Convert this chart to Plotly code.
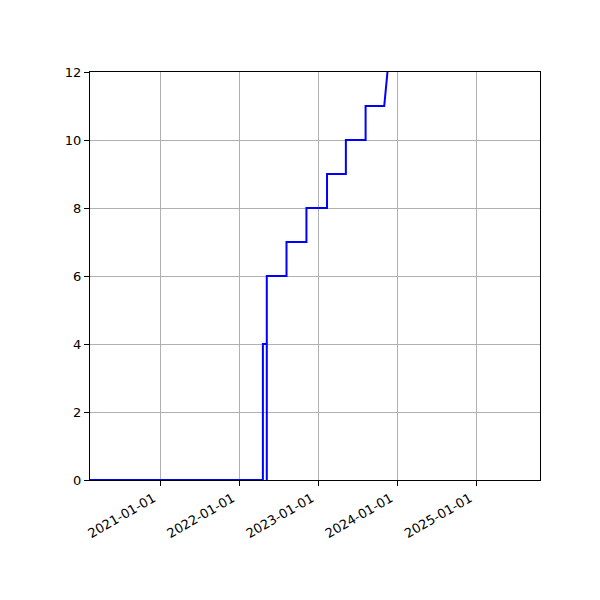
import plotly.graph_objects as go

# Vertex list of the plotted line (dates, values)
dates = [
    "2019-12-01", "2022-04-19", "2022-04-19", "2022-05-07", "2022-05-07", "2022-05-07",
    "2022-08-06", "2022-08-06", "2022-11-06", "2022-11-06", "2023-02-09", "2023-02-09",
    "2023-05-07", "2023-05-07", "2023-08-06", "2023-08-06", "2023-10-31", "2023-11-30",
]
values = [0, 0, 4, 4, 0, 6, 6, 7, 7, 8, 8, 9, 9, 10, 10, 11, 11, 13]

x_ticks = ["2021-01-01", "2022-01-01", "2023-01-01", "2024-01-01", "2025-01-01"]
y_ticks = [0, 2, 4, 6, 8, 10, 12]

fig = go.Figure()
fig.add_trace(go.Scatter(
    x=dates, y=values, mode="lines",
    line=dict(color="#0000ff", width=2),
    showlegend=False, cliponaxis=True,
))

fig.update_layout(
    width=600, height=600,
    margin=dict(l=82, r=68, t=64, b=128),
    plot_bgcolor="white", paper_bgcolor="white",
    font=dict(family="DejaVu Sans", size=13, color="black"),
)
fig.update_xaxes(
    type="date", range=["2020-02-11", "2025-10-19"],
    tickvals=x_ticks, ticktext=x_ticks, tickangle=-30,
    ticklabelshift=-7,
    showgrid=True, gridcolor="#b0b0b0", gridwidth=1,
    showline=True, linecolor="black", linewidth=1, mirror=True,
    ticks="outside", ticklen=5, tickcolor="black", zeroline=False,
)
fig.update_yaxes(
    range=[0, 12], tickvals=y_ticks,
    showgrid=True, gridcolor="#b0b0b0", gridwidth=1,
    showline=True, linecolor="black", linewidth=1, mirror=True,
    ticks="outside", ticklen=5, tickcolor="black", zeroline=False,
)

fig.write_html("out.html")
